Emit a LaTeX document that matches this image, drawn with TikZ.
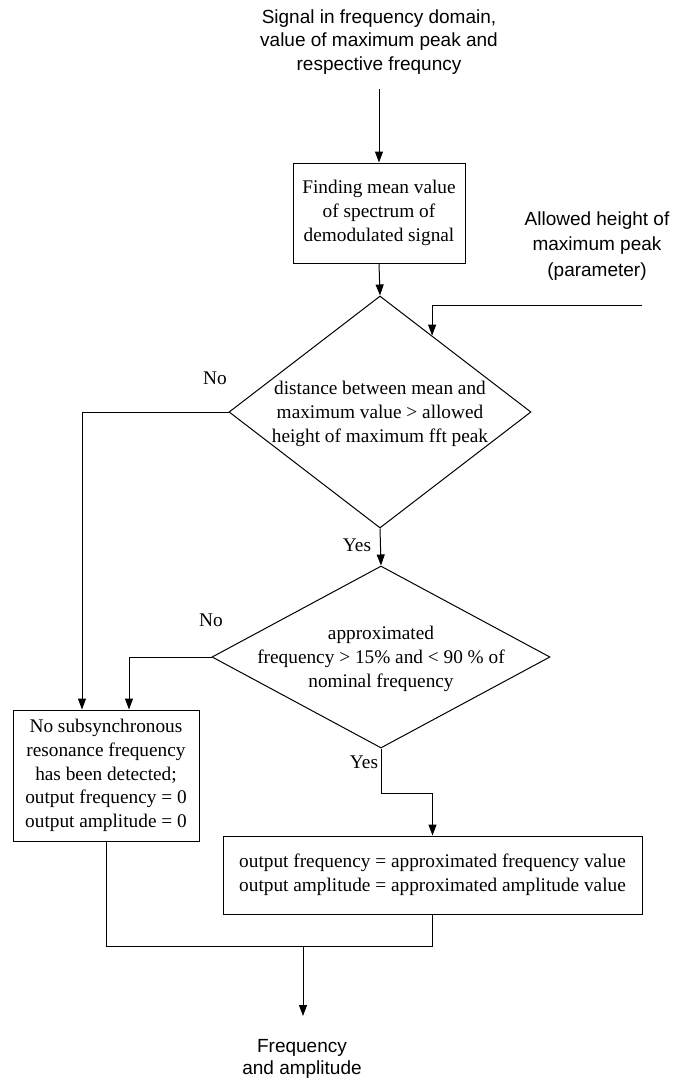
\documentclass[tikz,border=0pt]{standalone}
\usepackage{fontspec}
\setmainfont{Liberation Serif}
\newfontfamily\sansf{Liberation Sans}
\usetikzlibrary{shapes.geometric,arrows.meta,calc}
\begin{document}
\begin{tikzpicture}[x=1pt,y=-1pt,
  line/.style={line width=1pt},
  arr/.style={line width=1pt,-{Triangle[length=11pt,width=8pt]}},
  sertext/.style={font=\fontsize{19.3}{23.7}\selectfont, align=center, inner sep=0pt},
  santext/.style={font=\sansf\fontsize{19}{23.5}\selectfont, align=center, inner sep=0pt},
  procbox/.style={draw, line width=1pt, rectangle, inner sep=0pt, sertext},
  decision/.style={draw, line width=1pt, diamond, inner sep=0pt},
]
\useasboundingbox (0,0) rectangle (687,1079);

% texts outside boxes
\node[santext] (top) at (379,41.7) {Signal in frequency domain,\\value of maximum peak and\\respective frequncy};
\node[santext, font=\sansf\fontsize{19}{25.5}\selectfont] (param) at (597,246) {Allowed height of\\maximum peak\\(parameter)};
\node[santext, font=\sansf\fontsize{19}{22}\selectfont] (out) at (302,1059) {Frequency\\and amplitude};

% process boxes
\node[procbox, minimum width=172pt, minimum height=100pt] (b1) at (379,213) {Finding mean value\\of spectrum of\\demodulated signal};
\node[procbox, minimum width=186pt, minimum height=131pt] (b2) at (106,775.5) {No subsynchronous\\resonance frequency\\has been detected;\\output frequency = 0\\output amplitude = 0};
\node[procbox, minimum width=419pt, minimum height=78pt] (b3) at (432.5,875) {output frequency = approximated frequency value\\output amplitude = approximated amplitude value};

% decisions
\node[decision, minimum width=302pt, minimum height=232pt] (d1) at (380,412) {};
\node[sertext] (d1t) at ([yshift=-2pt]d1.center) {distance between mean and\\maximum value > allowed\\height of maximum fft peak};
\node[decision, minimum width=338pt, minimum height=182pt] (d2) at (381,657) {};
\node[sertext] (d2t) at ([yshift=-2pt]d2.center) {approximated\\frequency > 15\% and < 90 \% of\\nominal frequency};

% branch labels
\node[sertext] (no1) at (215,378) {No};
\node[sertext] (yes1) at (357,545) {Yes};
\node[sertext] (no2) at (211,620) {No};
\node[sertext] (yes2) at (364,762) {Yes};

% connectors
\coordinate (pin) at (642,305);
\coordinate (j) at (303,946);
\draw[arr] ([yshift=-15pt]top.south) -- (b1.north);
\draw[arr] (b1.south) -- (d1.north);
\draw[arr] (pin) -| ($(d1.north)!0.344!(d1.east)$);
\draw[arr] (d1.west) -| ([xshift=-24pt]b2.north);
\draw[arr] (d1.south) -- (d2.north);
\draw[arr] (d2.west) -| ([xshift=23pt]b2.north);
\draw[arr] (d2.south) -- ++(0,45) -| (b3.north);
\draw[line] (b2.south) |- (j) -| (b3.south);
\draw[arr] (j) -- ++(0,70);
\end{tikzpicture}
\end{document}
